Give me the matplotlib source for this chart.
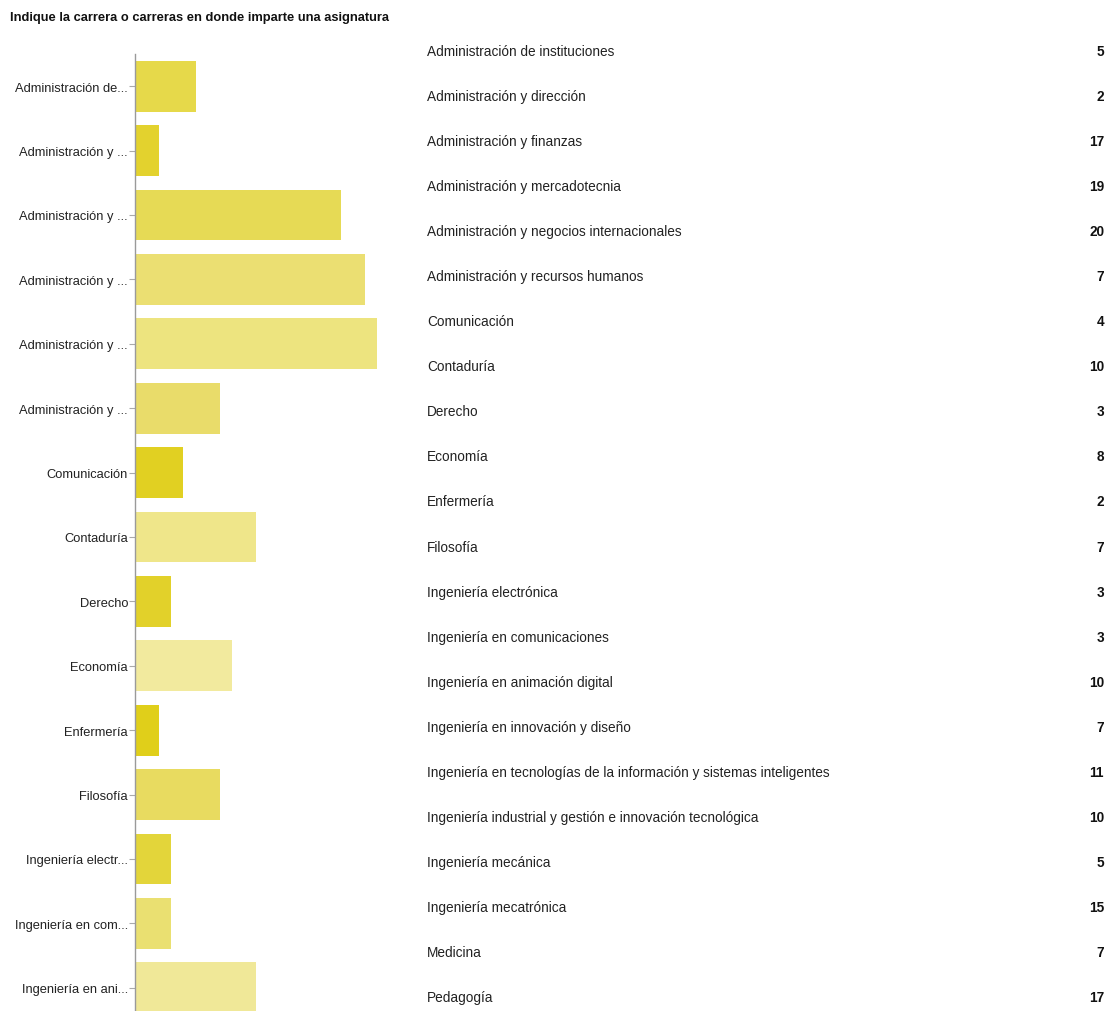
import matplotlib
matplotlib.use("Agg")
import matplotlib.pyplot as plt
from matplotlib import font_manager

title = "Indique la carrera o carreras en donde imparte una asignatura"

careers = [
    "Administración de instituciones",
    "Administración y dirección",
    "Administración y finanzas",
    "Administración y mercadotecnia",
    "Administración y negocios internacionales",
    "Administración y recursos humanos",
    "Comunicación",
    "Contaduría",
    "Derecho",
    "Economía",
    "Enfermería",
    "Filosofía",
    "Ingeniería electrónica",
    "Ingeniería en comunicaciones",
    "Ingeniería en animación digital",
    "Ingeniería en innovación y diseño",
    "Ingeniería en tecnologías de la información y sistemas inteligentes",
    "Ingeniería industrial y gestión e innovación tecnológica",
    "Ingeniería mecánica",
    "Ingeniería mecatrónica",
    "Medicina",
    "Pedagogía",
]
counts = [5, 2, 17, 19, 20, 7, 4, 10, 3, 8, 2, 7, 3, 3, 10, 7, 11, 10, 5, 15, 7, 17]

bar_colors = [
    "#e6d94a", "#e3d22e", "#e6da55", "#ebdf72", "#ede47f", "#e9dc6a",
    "#e1d022", "#efe68a", "#e2d12a", "#f2ea9e", "#e0cf1a", "#e8db60",
    "#e3d53a", "#eae071", "#f0e898", "#e8db60", "#e6da55", "#efe68a",
    "#e3d53a", "#ebdf72", "#e8db60", "#e6da55",
]


def pick_family(candidates):
    names = {f.name for f in font_manager.fontManager.ttflist}
    for name in candidates:
        if name in names:
            return name
    return "DejaVu Sans"


def short_label(name, limit=17):
    if len(name) <= limit + 3:
        return name
    return name[:limit] + "..."


family = pick_family(["Liberation Sans Narrow", "DejaVu Sans Condensed",
                      "Liberation Sans"])
narrow = family != "Liberation Sans"
plt.rcParams["font.family"] = family

W, H = 1109, 1012
fig = plt.figure(figsize=(W / 100, H / 100), dpi=100)
fig.patch.set_facecolor("white")

fig.text(10 / W, 1 - 18 / H, title, fontsize=11.0 if narrow else 9.3,
         fontweight="bold", color="#111111", va="center", ha="left")

# bar panel: only the rows that fit above the bottom edge are in view
row_px = 64.4
top_px = 55
ax = fig.add_axes([135 / W, 0, 242 / W, (H - top_px) / H])
ypos = list(range(len(careers)))
ax.barh(ypos, counts, height=0.79, color=bar_colors, edgecolor="none")
ax.set_yticks(ypos)
ax.set_yticklabels([short_label(c) for c in careers],
                   fontsize=11.3 if narrow else 9.3, color="#222222")
ax.set_xlim(0, max(counts))
ax.set_ylim(-0.5 + (H - top_px) / row_px, -0.5)
ax.tick_params(axis="y", length=4, width=0.8, color="#aaaaaa", pad=1)
ax.set_xticks([])
for side in ["top", "right", "bottom"]:
    ax.spines[side].set_visible(False)
ax.spines["left"].set_color("#9a9a9a")
ax.spines["left"].set_linewidth(1)

# table of full names and counts
tab_row_px = 45.05
tab_top_px = 52 - tab_row_px / 2
tab = fig.add_axes([427 / W, 1 - (tab_top_px + tab_row_px * len(careers)) / H,
                    (1104 - 427) / W, tab_row_px * len(careers) / H])
tab.set_xlim(0, 1)
tab.set_ylim(len(careers) - 0.5, -0.5)
tab.axis("off")
for i, (name, n) in enumerate(zip(careers, counts)):
    tab.text(0, i, name, fontsize=11.9 if narrow else 9.8, color="#222222",
             ha="left", va="center")
    tab.text(1, i, str(n), fontsize=11.9 if narrow else 9.8, color="#111111",
             fontweight="bold", ha="right", va="center")

fig.savefig("out.png", dpi=100, facecolor="white")
